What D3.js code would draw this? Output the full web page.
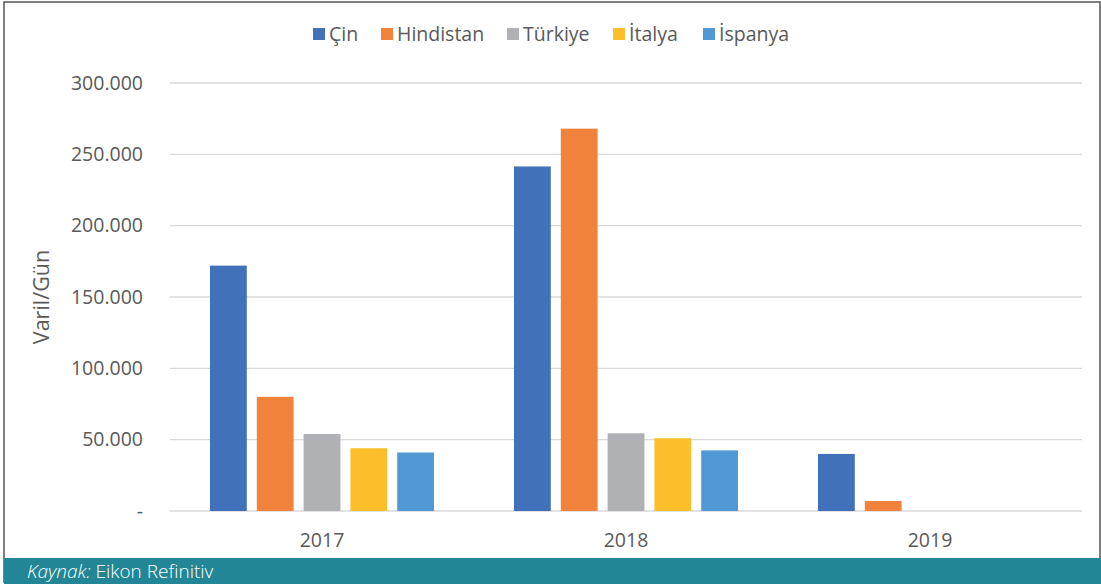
<!DOCTYPE html>
<html><head><meta charset="utf-8">
<script src="https://cdn.jsdelivr.net/npm/d3@7"></script>
<style>
html,body{margin:0;padding:0;background:#fff;}
svg{display:block;}
</style></head>
<body>
<svg id="chart" width="1101" height="584"></svg>
<script>
const categories = ["2017", "2018", "2019"];
const seriesNames = ["Çin", "Hindistan", "Türkiye", "İtalya", "İspanya"];
const cinValues = [172000, 241500, 40000];
const hindistanValues = [80000, 268000, 7000];
const turkiyeValues = [54000, 54500, null];
const italyaValues = [44000, 51000, null];
const ispanyaValues = [41000, 42500, null];
const colors = ["#4172B9", "#F0823C", "#B0B1B4", "#FCBE2A", "#5099D4"];
const yTicks = [0, 50000, 100000, 150000, 200000, 250000, 300000];
const yTickLabels = ["-", "50.000", "100.000", "150.000", "200.000", "250.000", "300.000"];
const yTitle = "Varil/Gün";
const sourceLabel = "Kaynak:";
const sourceText = " Eikon Refinitiv";

(function () {
const seriesValues = [cinValues, hindistanValues, turkiyeValues, italyaValues, ispanyaValues];
const font = "Open Sans, sans-serif";
const textColor = "#595959";

const svg = d3.select("#chart");
// frame
svg.append("rect").attr("x", 4).attr("y", 2).attr("width", 1096).attr("height", 580)
  .attr("fill", "#fff").attr("stroke", "#555").attr("stroke-width", 1.5);

const pLeft = 170, pRight = 1082, pTop = 83, pBottom = 511;
const x0 = d3.scaleBand().domain(categories).range([pLeft, pRight]).padding(0);
const x1 = d3.scaleBand().domain(seriesNames).range([40, x0.bandwidth() - 40]).paddingInner(0.214).paddingOuter(0);
const y = d3.scaleLinear().domain([0, 300000]).range([pBottom, pTop]);

// grid
svg.append("g").selectAll("line").data(yTicks).join("line")
  .attr("x1", pLeft).attr("x2", pRight)
  .attr("y1", d => y(d)).attr("y2", d => y(d))
  .attr("stroke", "#D9D9D9").attr("stroke-width", 1.3);

// y axis labels
const yAxis = d3.axisLeft(y).tickValues(yTicks).tickSize(0).tickPadding(0)
  .tickFormat((d, i) => yTickLabels[i]);
const yg = svg.append("g").attr("transform", `translate(${pLeft - 27},0)`).call(yAxis);
yg.select(".domain").remove();
yg.selectAll("text").attr("font-family", font).attr("font-size", 19.5).attr("fill", textColor);

// y title
svg.append("text").attr("transform", `translate(49,${(pTop + pBottom) / 2}) rotate(-90)`)
  .attr("text-anchor", "middle").attr("font-family", font).attr("font-size", 21.5)
  .attr("fill", textColor).text(yTitle);

// bars
const groups = svg.append("g").selectAll("g").data(categories).join("g")
  .attr("transform", d => `translate(${x0(d)},0)`);
groups.selectAll("rect").data((c, ci) => seriesNames.map((s, si) => ({s, si, v: seriesValues[si][ci]})).filter(d => d.v != null))
  .join("rect")
  .attr("x", d => x1(d.s)).attr("width", x1.bandwidth())
  .attr("y", d => y(d.v)).attr("height", d => y(0) - y(d.v))
  .attr("fill", d => colors[d.si]);

// x axis labels
const xAxis = d3.axisBottom(x0).tickSize(0).tickPadding(0);
const xg = svg.append("g").attr("transform", `translate(0,${pBottom + 29})`).call(xAxis);
xg.select(".domain").remove();
xg.selectAll("text").attr("font-family", font).attr("font-size", 19.5).attr("fill", textColor).attr("dy", "0.36em");

// legend
const legendX = [313, 381, 507, 613, 703];
const lg = svg.append("g").selectAll("g").data(seriesNames).join("g")
  .attr("transform", (d, i) => `translate(${legendX[i]},28)`);
lg.append("rect").attr("width", 12).attr("height", 12).attr("fill", (d, i) => colors[i]);
lg.append("text").attr("x", 16).attr("y", 6).attr("dy", "0.36em")
  .attr("font-family", font).attr("font-size", 19.5).attr("fill", textColor).text(d => d);

// source bar
svg.append("rect").attr("x", 4).attr("y", 558).attr("width", 1097).attr("height", 26).attr("fill", "#228696");
const st = svg.append("text").attr("x", 27).attr("y", 577.5).attr("font-family", font)
  .attr("font-size", 19).attr("font-weight", 300).attr("fill", "#fff");
st.append("tspan").attr("font-style", "italic").text(sourceLabel);
st.append("tspan").text(sourceText);
})();
</script>
</body></html>
